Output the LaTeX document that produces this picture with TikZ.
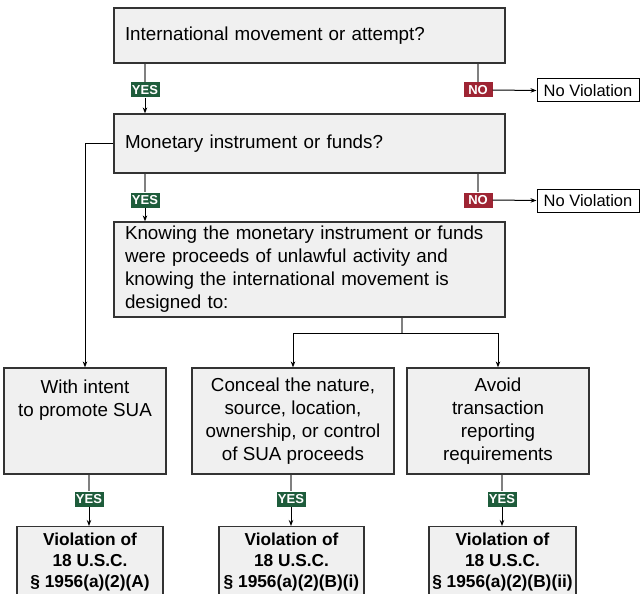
\documentclass[tikz,border=0pt]{standalone}
\usepackage{fontspec}
\setmainfont{Liberation Sans}
\usetikzlibrary{arrows.meta,calc}
\definecolor{yesgreen}{HTML}{1E5C3B}
\definecolor{nored}{HTML}{9E2433}
\definecolor{boxgray}{HTML}{F0F0F0}
\tikzset{
  qBox/.style={draw=black!80,line width=1.2pt,fill=boxgray,
        font=\fontsize{18.8}{23}\selectfont},
  qWide/.style={qBox,text width=369pt,align=left,inner xsep=11pt,inner ysep=3pt},
  qLow/.style={qBox,align=center,minimum height=106pt,inner sep=2pt},
  vBox/.style={qBox,align=center,anchor=north,inner ysep=6pt,
        font=\fontsize{17.3}{21}\selectfont\bfseries},
  nvBox/.style={draw=black,line width=1pt,fill=white,inner sep=1pt,
        font=\fontsize{16.5}{18}\selectfont,minimum width=102pt,minimum height=23pt},
  tag/.style={font=\fontsize{13}{13}\selectfont\bfseries,text=white,
        minimum width=29pt,minimum height=15pt,inner sep=0pt},
  yesTag/.style={tag,fill=yesgreen},
  noTag/.style={tag,fill=nored},
  stem/.style={draw=black!50,line width=1.5pt},
  link/.style={draw=black,line width=1pt,-{Stealth[length=6pt,width=4.5pt]}},
}
\begin{document}
\begin{tikzpicture}[x=1pt,y=-1pt]
\useasboundingbox (0,0) rectangle (643,594);
\node[qWide,minimum height=55pt]  (q1)  at (309.5,35.5)  {International movement or attempt?};
\node[yesTag]  (y1)  at (145,90)   {YES};
\node[noTag]   (n1)  at (478,90)   {NO};
\node[nvBox]   (nv1) at (588,90.5) {No Violation};
\node[qWide,minimum height=59pt]  (q2)  at (309.5,143.5) {Monetary instrument or funds?};
\node[yesTag]  (y2)  at (145,200)  {YES};
\node[noTag]   (n2)  at (478,200)  {NO};
\node[nvBox]   (nv2) at (588,200.5) {No Violation};
\node[qWide,minimum height=95pt]  (q3)  at (309.5,269.5) {Knowing the monetary instrument or funds\\were proceeds of unlawful activity and\\knowing the international movement is\\designed to:};
\coordinate (split) at (402,333);
\node[qLow,minimum width=162pt] (a) at (85,421)  {With intent\\to promote SUA\\\mbox{}\\\mbox{}};
\node[qLow,minimum width=202pt] (b) at (293,421) {Conceal the nature,\\source, location,\\ownership, or control\\of SUA proceeds};
\node[qLow,minimum width=182pt] (c) at (498,421) {Avoid\\transaction\\reporting\\requirements};
\node[yesTag]  (ya)  at (89,499)   {YES};
\node[yesTag]  (yb)  at (291,499)  {YES};
\node[yesTag]  (yc)  at (502,499)  {YES};
\node[vBox,minimum width=146pt] (va) at (90,526)    {Violation of\\18 U.S.C.\\§ 1956(a)(2)(A)};
\node[vBox,minimum width=145pt] (vb) at (291.5,526) {Violation of\\18 U.S.C.\\§ 1956(a)(2)(B)(i)};
\node[vBox,minimum width=147pt] (vc) at (502.5,526) {Violation of\\18 U.S.C.\\§ 1956(a)(2)(B)(ii)};
% first question
\draw[stem] (q1.south -| y1) -- (y1.north);
\draw[link] (y1.south) -- (y1 |- q2.north);
\draw[stem] (q1.south -| n1) -- (n1.north);
\draw[link] (n1.east) -- (nv1.west);
% second question
\draw[stem] (q2.south -| y2) -- (y2.north);
\draw[link] (y2.south) -- (y2 |- q3.north);
\draw[stem] (q2.south -| n2) -- (n2.north);
\draw[link] (n2.east) -- (nv2.west);
\draw[link] (q2.west) -| (a.north);
% designed to
\draw[stem] (q3.south -| split) -- (split);
\draw[link] (split) -| (b.north);
\draw[link] (split) -| (c.north);
% outcomes
\draw[stem] (a.south -| ya) -- (ya.north);
\draw[link] (ya.south) -- (ya |- va.north);
\draw[stem] (b.south -| yb) -- (yb.north);
\draw[link] (yb.south) -- (yb |- vb.north);
\draw[stem] (c.south -| yc) -- (yc.north);
\draw[link] (yc.south) -- (yc |- vc.north);
\end{tikzpicture}
\end{document}
